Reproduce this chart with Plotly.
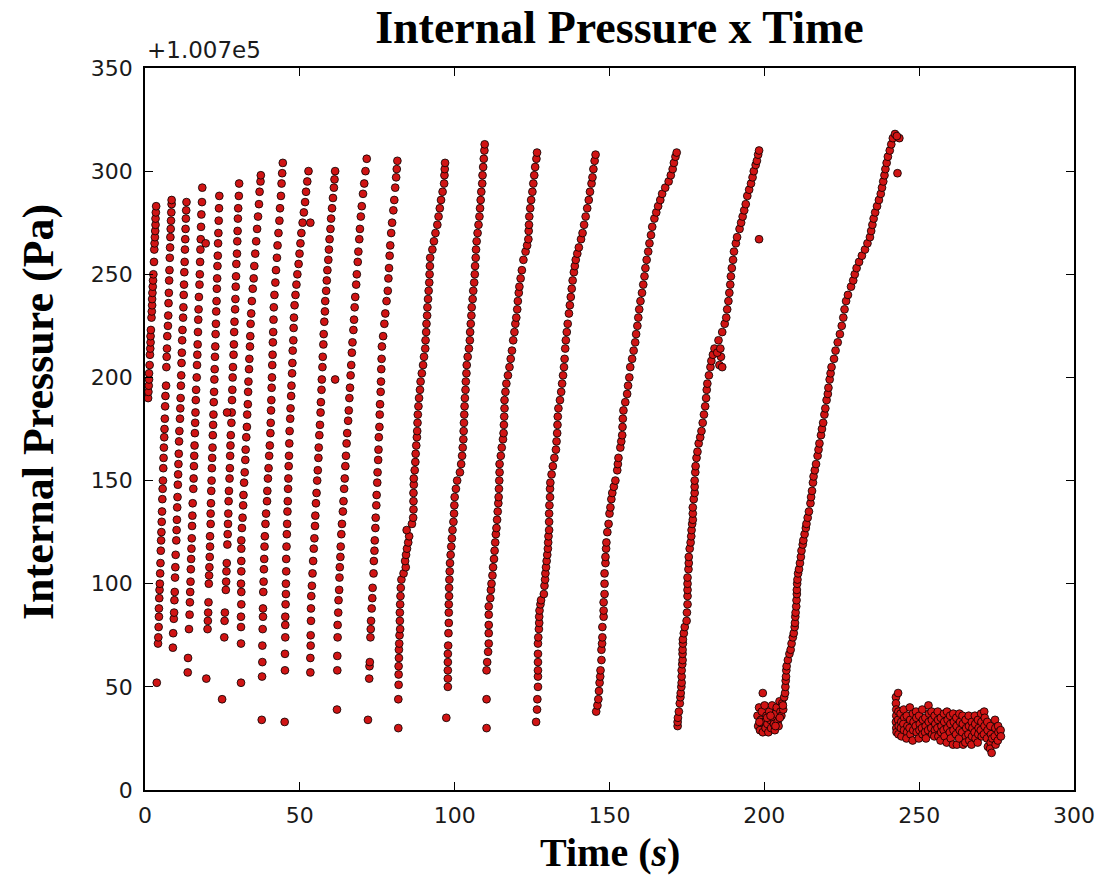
import plotly.graph_objects as go

# Internal pressure readings, Pa, relative to an offset of 1.007e5 Pa; time in s.
OFFSET_LABEL = "+1.007e5"

s00_t = [1.0,1.1,1.2,1.3,1.3,1.5,1.6,1.7,1.8,1.8,1.9,2.1,2.2,2.3,2.3,2.4,2.5,2.6,2.7,2.9,3.0,3.1,3.2,3.3,3.4,3.4,3.5,3.6]
s00_p = [190,193,196,199,202,206,211,214,217,220,223,229,232,235,238,241,244,247,250,256,262,265,268,271,274,277,280,283]

s01_t = [3.8,4.2,4.3,4.4,4.5,4.5,4.6,4.7,4.8,4.9,5.0,5.1,5.2,5.3,5.4,5.5,5.6,5.7,5.8,5.9,6.0,6.1,6.2,6.3,6.4,6.5,6.6,6.8,6.9,7.0,7.1,7.2,7.4,7.5,7.6,7.7,7.8,7.9,8.0,8.1,8.2,8.3,8.4,8.5,8.6,8.6]
s01_p = [52,71,74,79,84,88,93,97,100,105,110,116,121,125,130,135,141,146,150,156,161,166,171,175,180,186,191,196,205,210,214,220,225,230,236,241,247,252,258,263,268,272,276,280,284,286]

s02_t = [9.0,9.1,9.3,9.4,9.5,9.6,9.7,9.8,9.9,10.1,10.2,10.3,10.4,10.5,10.6,10.7,10.8,10.9,11.0,11.1,11.3,11.4,11.5,11.6,11.7,11.8,11.9,12.0,12.1,12.3,12.4,12.5,12.6,12.7,12.8,12.9,13.0,13.1,13.2,13.3,13.4]
s02_p = [69,76,83,86,92,96,103,108,114,121,126,131,137,142,148,153,158,163,169,174,180,185,190,196,201,207,212,218,223,229,234,240,245,251,256,262,267,272,277,281,285]

s03_t = [13.8,13.9,14.2,14.4,14.5,14.6,14.7,14.8,14.9,15.0,15.1,15.2,15.3,15.4,15.6,15.7,15.8,15.9,16.0,16.1,16.2,16.3,16.4,16.5,16.7,16.8,16.9,17.0,17.1,17.2,17.3,17.4,17.6,17.7,17.8,17.9,18.0,18.1,18.2,18.4,18.5]
s03_p = [57,64,78,85,91,96,101,107,112,117,122,128,133,139,146,151,157,162,167,173,178,183,189,194,200,206,211,216,222,228,233,239,245,250,256,262,267,273,279,285,292]

s04_t = [19.8,20.2,20.3,20.4,20.5,20.6,20.7,20.8,20.9,21.0,21.0,21.2,21.2,21.3,21.4,21.5,21.6,21.7,21.8,21.9,22.0,22.1,22.2,22.3,22.4,22.5,22.6,22.7,22.8,22.9,23.0,23.1,23.2,23.3,23.4,23.5,23.6,23.7,23.8,23.9,24.0]
s04_p = [54,78,82,86,91,100,104,108,113,118,123,129,134,139,145,150,156,161,166,172,177,182,188,193,199,204,210,215,221,226,232,237,243,248,254,259,265,270,276,282,288]

s05_t = [24.9,25.6,25.7,25.8,26.1,26.2,26.3,26.4,26.6,26.7,26.8,26.9,27.0,27.1,27.3,27.4,27.5,27.6,27.7,27.9,28.0,28.1,28.2,28.3,28.4,28.6,28.7,28.8,28.9,29.1,29.2,29.3,29.4,29.5,29.7,29.8,29.9,30.0,30.1,30.3,30.4]
s05_p = [44,74,82,86,97,101,106,110,119,124,129,134,140,145,151,156,162,167,172,178,183,189,194,200,205,211,216,222,227,233,238,244,249,255,260,266,271,277,282,288,294]

s06_t = [31.0,31.0,31.0,31.0,31.1,31.1,31.0,31.1,31.1,31.1,31.1,31.3,31.5,31.7,31.8,32.0,32.2,32.4,32.5,32.7,32.9,33.0,33.2,33.3,33.4,33.6,33.7,33.9,34.0,34.1,34.3,34.5,34.8,35.1,35.3,35.6,35.9,36.2,36.5,36.8,37.0,37.3,37.4]
s06_p = [52,71,79,84,90,96,100,106,111,117,121,127,132,138,143,149,154,160,165,171,176,182,187,193,198,204,209,215,220,226,231,237,243,248,254,260,266,272,278,284,290,295,298]

s07_t = [37.7,37.8,37.9,37.9,38.0,38.1,38.1,38.2,38.3,38.4,38.5,38.6,38.7,38.9,39.1,39.4,39.5,39.7,39.9,40.1,40.3,40.5,40.6,40.7,40.8,40.9,41.0,41.1,41.2,41.3,41.4,41.5,41.6,41.8,42.1,42.3,42.6,42.8,43.1,43.4,43.6,43.9,44.1,44.3,44.5]
s07_p = [34,55,62,70,78,84,88,96,101,107,112,118,123,129,134,140,145,151,156,162,167,173,178,184,189,195,200,206,211,217,222,228,234,240,246,252,258,264,270,276,282,288,294,299,304]

s08_t = [45.1,45.2,45.2,45.3,45.3,45.3,45.4,45.5,45.5,45.6,45.6,45.7,45.8,45.9,46.0,46.1,46.2,46.3,46.4,46.5,46.6,46.7,46.9,47.0,47.2,47.3,47.5,47.6,47.7,47.9,48.0,48.1,48.3,48.6,48.9,49.2,49.6,49.9,50.2,50.5,50.9,51.3,51.7,52.0,52.4,52.8]
s08_p = [33,58,66,74,80,84,90,95,100,106,112,118,124,129,135,140,146,151,157,162,168,174,180,185,191,196,202,207,213,218,224,229,235,240,245,250,255,260,265,270,275,280,285,290,295,300]

s09_t = [53.4,53.4,53.5,53.5,53.6,53.6,53.7,53.9,54.1,54.3,54.5,54.7,54.9,55.0,55.2,55.4,55.6,55.8,56.0,56.1,56.3,56.5,56.7,56.8,57.0,57.1,57.3,57.4,57.6,57.7,57.9,58.1,58.2,58.5,58.7,58.9,59.2,59.4,59.6,59.9,60.1,60.4,60.7,61.0,61.2,61.4]
s09_p = [57,64,70,75,82,88,94,99,105,111,117,122,128,133,139,144,150,155,161,166,172,177,183,188,194,199,205,210,216,221,227,232,237,242,247,252,257,262,267,272,277,282,287,292,296,300]

s10_t = [62.0,62.1,62.1,62.2,62.2,62.4,62.5,62.7,62.8,62.9,63.1,63.2,63.4,63.6,63.9,64.1,64.3,64.5,64.7,64.9,65.1,65.3,65.6,65.8,66.0,66.2,66.4,66.6,66.8,67.0,67.3,67.5,67.7,67.9,68.2,68.4,68.7,68.9,69.2,69.4,69.7,70.0,70.4,70.8,71.2,71.6]
s10_p = [39,58,65,74,80,86,92,97,103,108,113,118,124,129,135,140,146,151,157,162,168,173,179,184,190,195,201,206,212,217,223,228,234,239,245,250,256,261,267,272,278,283,289,294,300,306]

s11_t = [72.0,72.4,72.5,72.6,72.8,72.9,73.0,73.2,73.4,73.5,73.8,73.9,74.1,74.2,74.4,74.5,74.7,74.8,75.0,75.1,75.3,75.4,75.5,75.7,75.8,75.9,76.1,76.2,76.3,76.4,76.5,76.9,77.3,77.6,78.0,78.4,78.6,78.8,79.0,79.2,79.5,79.8,80.2,80.5,80.8,81.1,81.3,81.5]
s11_p = [34,54,60,62,74,78,82,88,93,98,105,111,116,121,127,132,138,143,149,154,160,165,171,176,182,187,193,198,204,209,215,220,226,231,237,242,248,253,259,264,270,275,281,286,292,297,301,305]

s12_t = [81.8,81.8,81.9,81.9,81.9,82.0,82.0,82.1,82.2,82.4,82.3,82.3,82.4,82.5,82.6,82.8,83.5,84.2,84.0,84.3,84.6,85.0,85.3,84.5,86.2,86.6,86.7,86.7,86.7,86.8,86.8,87.1,87.3,87.4,87.6,87.8,87.9,88.0,88.1,88.3,88.5,88.8,89.0,89.4,89.8,90.1,90.5,90.6,90.8,90.9,91.1,91.2,91.4,91.6,91.8,91.9,92.0,92.1,92.8,93.3,93.8,94.4,94.8,95.2,95.6,96.1,96.6,96.7,96.8,96.9]
s12_p = [30,44,51,56,60,64,68,71,75,78,82,86,90,94,98,102,105,108,111,114,117,120,123,126,129,132,136,140,144,148,151,155,159,163,167,171,174,178,182,186,190,194,198,202,206,210,214,218,222,226,230,234,238,242,246,250,254,258,262,266,270,274,278,282,286,290,294,298,301,304]

s13_t = [97.3,97.8,97.8,97.8,97.8,97.8,97.9,98.0,98.1,98.1,98.1,98.2,98.2,98.3,98.4,98.5,98.7,98.9,99.1,99.3,99.6,99.8,99.9,100.0,100.4,100.8,101.7,102.1,102.4,102.6,102.8,102.9,103.0,103.1,103.2,103.3,103.5,103.6,103.8,103.9,104.2,104.6,104.9,105.0,105.2,105.4,105.5,105.8,106.0,106.3,106.5,106.6,106.8,106.9,107.1,107.4,107.7,108.0,108.2,108.4,108.6,108.9,109.0,109.2,109.4,109.6,109.7]
s13_p = [35,50,54,58,62,66,70,76,81,86,90,94,98,102,106,110,114,118,122,126,130,134,138,142,146,150,154,158,162,166,170,174,178,182,186,190,194,198,202,206,210,214,218,222,226,230,234,238,242,246,250,254,258,262,266,270,274,278,282,286,290,294,298,302,306,310,313]

s14_t = [110.3,110.3,110.3,110.5,110.8,111.0,111.0,111.0,111.0,111.0,111.5,111.7,111.9,112.2,112.4,112.7,112.9,113.1,113.3,113.5,113.7,113.9,114.1,114.2,114.3,114.4,114.5,114.5,114.9,115.2,115.6,115.8,115.9,116.0,116.1,116.1,116.4,116.7,117.2,117.7,118.1,118.5,118.9,119.3,119.6,119.9,120.2,120.4,120.7,120.9,121.3,121.7,122.2,122.9,123.4,123.8,123.9,124.0,124.1,124.4,124.7,125.1,125.4,125.7,126.0,126.4,126.6]
s14_p = [30,44,58,62,67,71,76,80,85,89,93,97,100,104,108,112,116,120,124,127,131,135,139,142,146,150,154,158,162,166,170,173,177,181,185,189,193,197,201,205,209,213,218,222,226,229,233,237,241,244,248,252,257,261,264,267,271,274,278,282,286,290,294,298,302,306,309]

s15_t = [126.3,126.6,126.7,126.9,126.9,126.9,126.9,126.9,126.9,127.0,127.2,127.3,127.3,127.4,127.7,127.9,128.8,129.0,129.2,129.3,129.5,129.7,129.9,130.1,130.2,130.3,130.5,130.5,130.5,130.6,130.8,130.8,130.9,131.3,131.7,132.2,132.7,132.9,133.1,133.2,133.3,133.5,134.0,134.4,134.7,135.0,135.3,135.5,135.7,135.9,136.2,136.5,136.9,137.2,137.5,137.8,138.1,138.5,138.8,139.1,139.6,140.1,140.8,141.3,141.8,142.3,142.8,143.3,143.7,144.2,144.5,144.8,145.2,145.5]
s15_p = [33,39,44,50,55,58,62,66,71,74,78,81,84,87,90,92,95,99,102,105,108,111,114,117,120,123,126,130,134,138,142,146,149,153,157,161,165,169,173,177,181,185,189,193,197,201,205,209,214,218,222,226,231,235,239,243,247,251,254,257,260,263,267,270,274,278,282,286,290,294,297,301,305,308]

s16_t = [145.7,146.1,146.4,146.6,146.8,147.0,147.1,147.4,147.4,147.6,147.7,147.7,148.1,148.1,148.1,148.4,148.4,148.4,148.7,148.7,148.9,149.0,149.3,149.7,150.0,150.3,150.6,150.9,151.4,151.9,152.5,152.7,152.9,153.5,153.8,154.1,154.2,154.3,154.5,155.1,155.7,156.0,156.4,156.7,157.3,157.8,158.3,158.6,159.0,159.3,159.6,160.0,160.5,160.9,161.3,161.6,162.0,162.5,162.9,163.4,163.8,164.5,165.1,165.7,166.4,167.0,168.0,169.1,169.8,170.4,170.8,171.3,171.7]
s16_p = [38,41,44,48,52,55,58,63,68,71,74,79,84,87,91,95,100,105,110,113,117,120,125,129,134,137,141,144,147,150,155,158,161,166,169,172,176,180,184,188,192,196,200,205,209,213,217,221,225,229,233,237,241,245,249,253,257,261,265,269,273,277,280,283,286,289,292,295,298,301,304,307,309]

s17_t = [172.0,172.0,172.1,172.4,172.7,172.9,173.0,173.2,173.3,173.3,173.3,173.5,173.6,173.6,173.6,173.7,173.7,174.0,174.3,174.9,175.0,175.2,175.2,175.2,175.2,175.2,175.5,175.6,175.6,175.9,176.2,176.4,176.5,176.7,176.9,176.9,176.9,177.2,177.5,177.5,177.5,177.7,177.8,178.1,178.4,178.8,179.3,179.7,180.1,180.5,180.9,181.2,181.4,181.6,182.1,182.6,182.9,183.4,183.9,185.2,186.4,187.2,187.7,188.0,188.4,188.7,189.0,189.2,189.5,189.9,190.2,190.8,191.2,192.0,192.5,193.0,193.5,194.0,194.5,195.1,195.7,196.2,196.6,197.2,197.6,198.0,198.3,
         185.5,186.4,186.0,184.8,185.8,198.3]
s17_p = [31,33,35,38,42,45,47,50,52,55,58,61,63,66,68,71,73,76,79,82,86,90,94,97,100,103,107,110,113,117,120,123,126,129,131,134,137,141,144,147,150,154,157,161,164,168,171,174,178,182,186,190,194,197,201,205,208,211,214,218,222,226,229,233,237,241,245,249,253,257,261,265,268,272,275,278,281,284,288,291,294,297,300,303,305,308,310,
         206,205,210,212,214,267]

s18_t = [197.8,198.0,198.3,198.6,198.9,199.2,199.5,199.8,200.1,200.4,200.7,201.0,201.3,201.6,201.9,202.2,202.5,202.8,203.1,203.4,203.7,204.0,204.3,204.6,204.9,205.2,205.5,205.8,206.1,206.4,206.7,199.5,198.4,200.9,202.0,203.6,205.0,206.0,
         206.8,206.9,207.0,207.1,207.2,207.6,208.1,208.5,208.8,209.2,209.5,209.8,209.9,210.0,210.1,210.3,210.4,210.5,210.5,210.6,210.7,210.9,211.2,211.5,211.8,212.0,212.4,212.6,213.0,213.4,213.6,214.0,214.4,214.9,215.1,215.4,215.7,215.9,216.3,216.7,217.2,217.5,217.8,218.3,218.6,219.0,219.4,219.7,220.1,220.5,220.7,221.1,221.4,221.7,222.5,223.0,223.7,224.4,225.0,225.5,225.9,226.4,227.0,228.0,228.7,229.2,229.8,230.6,231.5,232.5,233.3,234.1,234.5,234.9,235.3,235.8,236.4,237.0,237.6,238.0,238.4,238.8,239.1,239.5,239.9,240.5,241.0,241.5,242.2,
         243.0,243.6,242.8]
s18_p = [36,31,40,29,34,38,28,33,41,30,36,32,28,38,34,30,41,35,32,29,37,40,33,31,43,38,36,42,39,45,47,47,33,35,36,31,35,41,
         50,53,55,58,60,63,66,68,71,74,76,79,81,84,86,89,92,95,97,100,102,105,107,110,113,116,119,121,124,127,129,132,135,139,142,145,149,152,155,158,162,165,168,172,175,178,182,185,189,192,195,199,202,205,209,213,217,221,225,229,233,237,240,244,247,250,253,256,259,262,265,268,271,274,277,280,283,286,289,292,295,298,301,304,307,310,313,316,318,
         299,316,317]

s19_t = [242.5,242.5,242.6,242.6,242.5,242.6,242.7,243.2,243.3,243.2,243.4,243.3,
         244.0,244.2,244.1,244.3, 245.0,245.2,244.9,245.1, 246.0,246.2,246.1,245.9, 247.0,247.1,246.9,247.2,
         248.0,248.2,248.1,247.9, 249.0,249.1,248.9,249.2, 250.0,250.2,250.1,249.9, 251.0,251.2,250.9,251.1,
         252.0,252.1,251.9,252.2, 253.0,253.2,253.1,252.9, 254.0,254.1,253.9,254.2, 255.0,255.2,255.1,254.9,
         256.0,256.1,255.9,256.2, 257.0,257.2,257.1,256.9, 258.0,258.1,257.9,258.2, 259.0,259.2,259.1,258.9,
         260.0,260.1,259.9,260.2, 261.0,261.2,261.1,260.9, 262.0,262.1,261.9,262.2, 263.0,263.2,263.1,262.9,
         264.0,264.1,263.9,264.2, 265.0,265.2,265.1,264.9, 266.0,266.1,265.9,266.2, 267.0,267.2,267.1,266.9,
         268.0,268.1,267.9,268.2, 269.0,269.2,269.1,268.9, 270.0,270.1,269.9,270.2, 271.0,271.2,271.1,270.9,
         272.0,272.1,271.9,272.2, 273.0,273.2,273.1,272.9, 273.4,273.6, 274.5,274.6,274.4,274.7,
         275.5,275.6,275.4, 276.3,276.4]
s19_p = [45,42,39,36,33,30,28,47,38,34,31,27,
         37,33,30,26, 39,35,32,29, 36,31,28,25, 40,34,30,27,
         37,33,29,24, 38,35,31,28, 36,32,29,25, 39,34,30,27,
         35,31,28,25, 41,37,33,29, 38,34,30,27, 36,32,29,26,
         38,34,30,26, 35,31,28,24, 37,33,29,26, 38,34,30,23,
         36,32,28,25, 37,33,29,22, 35,31,27,22, 37,33,29,25,
         36,32,28,22, 34,30,26,23, 36,31,27,24, 33,30,26,22,
         36,32,28,25, 34,30,27,23, 37,33,29,26, 38,35,31,27,
         33,29,25,21, 31,27,23,20, 18,25, 34,30,26,22,
         31,28,24, 29,26]

stray_t = [19.6, 53.4, 61.4, 26.5]
stray_p = [265, 275, 199, 183]

x_ticks = [0, 50, 100, 150, 200, 250, 300]
y_ticks = [0, 50, 100, 150, 200, 250, 300, 350]

sweeps = [(s00_t, s00_p), (s01_t, s01_p), (s02_t, s02_p), (s03_t, s03_p), (s04_t, s04_p),
          (s05_t, s05_p), (s06_t, s06_p), (s07_t, s07_p), (s08_t, s08_p), (s09_t, s09_p),
          (s10_t, s10_p), (s11_t, s11_p), (s12_t, s12_p), (s13_t, s13_p), (s14_t, s14_p),
          (s15_t, s15_p), (s16_t, s16_p), (s17_t, s17_p), (s18_t, s18_p), (s19_t, s19_p),
          (stray_t, stray_p)]

t_all, p_all = [], []
for ts, ps in sweeps:
    for a, b in zip(ts, ps):
        t_all.append(a)
        p_all.append(b)

fig = go.Figure(go.Scatter(
    x=t_all, y=p_all, mode="markers",
    marker=dict(size=7.8, color="#d01414", line=dict(color="black", width=0.8)),
    hoverinfo="x+y"))

axis_common = dict(showline=True, linecolor="black", linewidth=1.5, mirror="allticks",
                   ticks="inside", ticklen=8, tickwidth=1.2, tickcolor="black",
                   showgrid=False, zeroline=False,
                   tickfont=dict(family="DejaVu Sans", size=22, color="#1a1a1a"))

fig.update_xaxes(range=[0, 300], tickmode="array", tickvals=x_ticks, ticklabelstandoff=5, **axis_common)
fig.update_yaxes(range=[0, 350], tickmode="array", tickvals=y_ticks, ticklabelstandoff=6, **axis_common)

fig.update_layout(
    width=1107, height=877,
    margin=dict(l=145, r=24, t=68, b=87),
    paper_bgcolor="white", plot_bgcolor="white", showlegend=False,
    title=dict(text="<b>Internal Pressure x Time</b>", x=0.5 + 10 / 938, xref="paper", xanchor="center",
               y=1 - 27 / 877, yref="container", yanchor="middle",
               font=dict(family="Liberation Serif", size=46, color="black")),
    annotations=[
        dict(text=OFFSET_LABEL, x=0, xref="paper", xanchor="left", y=1, yref="paper",
             yanchor="bottom", yshift=3, showarrow=False,
             font=dict(family="DejaVu Sans", size=23, color="#1a1a1a")),
        dict(text="<b>Time (<i>s</i>)</b>", x=0.5, xref="paper", xanchor="center",
             y=-62 / 722, yref="paper", yanchor="middle", showarrow=False,
             font=dict(family="Liberation Serif", size=40, color="black")),
        dict(text="<b>Internal Pressure (Pa)</b>", textangle=-90, x=-108 / 938, xref="paper",
             xanchor="center", y=(790 - 412) / 722, yref="paper", yanchor="middle",
             showarrow=False, font=dict(family="Liberation Serif", size=44, color="black")),
    ],
)

fig.write_html("out.html")
